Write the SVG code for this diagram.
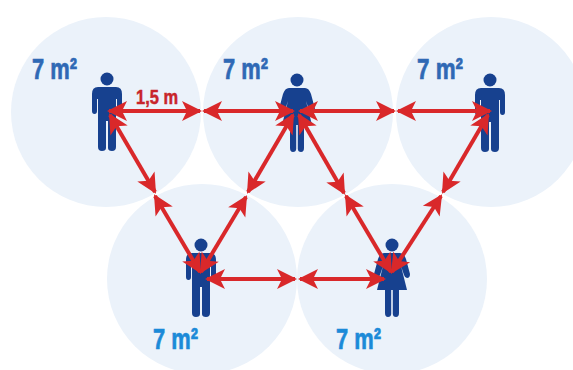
<svg xmlns="http://www.w3.org/2000/svg" width="573" height="370" viewBox="0 0 573 370">
<style>
.zone{fill:#ebf2fa}
.man,.woman{fill:#17418f}
.t{font-family:"Liberation Sans",Arial,sans-serif;font-weight:700;font-size:30px;stroke-width:0.7}
.top{fill:#2f69b5;stroke:#2f69b5}
.bot{fill:#1b8ad8;stroke:#1b8ad8}
.red{stroke:#d9282a;stroke-width:4;fill:none;marker-start:url(#ah);marker-end:url(#ah)}
.dist{fill:#c8242b;stroke:#c8242b;stroke-width:0.5;font-family:"Liberation Sans",Arial,sans-serif;font-weight:700;font-size:20px}
</style>
<defs>
<marker id="ah" markerUnits="userSpaceOnUse" markerWidth="24" markerHeight="24" refX="19" refY="12" orient="auto-start-reverse" viewBox="0 0 24 24">
<path d="M21,12 L1,2 L6,12 L1,22 Z" fill="#d9282a"/>
</marker>
<g id="man">
<circle cx="0" cy="-32" r="6.5"/>
<path d="M-9,-24 H9 Q15,-24 15,-17 V0 Q15,3 12.500,3 Q10,3 10,0 V-12 H9 V36 Q9,40 5,40 Q1,40 1,37 V10 H-1 V37 Q-1,40 -5,40 Q-9,40 -9,36 V-12 H-10 V0 Q-10,3 -12.500,3 Q-15,3 -15,0 V-17 Q-15,-24 -9,-24 Z"/>
</g>
<g id="woman">
<circle cx="0" cy="-32" r="6.500"/>
<path d="M-8,-24 H8 Q12,-24 14,-18 L18,-3 Q18,1 15,1 Q13,1 12,-2 L9,-11 L15,13 H7 V36 Q7,40 4,40 Q1,40 0.800,37 V13 H-0.800 V37 Q-1,40 -4,40 Q-7,40 -7,36 V13 H-15 L-9,-11 L-12,-2 Q-13,1 -15,1 Q-18,1 -18,-3 L-14,-18 Q-12,-24 -8,-24 Z"/>
</g>
</defs>
<rect width="573" height="370" fill="#fff"/>
<g id="zones">
<circle class="zone" cx="106" cy="112" r="95"/>
<circle class="zone" cx="298" cy="112" r="95"/>
<circle class="zone" cx="491" cy="112" r="95"/>
<circle class="zone" cx="202" cy="279" r="95"/>
<circle class="zone" cx="392" cy="279" r="95"/>
</g>
<g id="person-1" class="man"><use href="#man" x="107" y="111"/></g>
<g id="person-2" class="woman"><use href="#woman" x="297" y="112"/></g>
<g id="person-3" class="man"><use href="#man" x="490" y="112"/></g>
<g id="person-4" class="man"><use href="#man" x="201" y="277"/></g>
<g id="person-5" class="woman"><use href="#woman" x="392" y="277"/></g>
<g id="connectors">
<line class="red" x1="109" y1="111" x2="200" y2="111"/>
<line class="red" x1="204" y1="111" x2="293" y2="111"/>
<line class="red" x1="300" y1="111" x2="394" y2="111"/>
<line class="red" x1="398" y1="111" x2="490" y2="111"/>
<line class="red" x1="110" y1="115" x2="155" y2="192"/>
<line class="red" x1="155" y1="196" x2="200" y2="272"/>
<line class="red" x1="293" y1="115" x2="248" y2="192"/>
<line class="red" x1="246" y1="197" x2="201" y2="272"/>
<line class="red" x1="299" y1="115" x2="344" y2="193"/>
<line class="red" x1="346" y1="196" x2="391" y2="272"/>
<line class="red" x1="488" y1="115" x2="443" y2="192"/>
<line class="red" x1="441" y1="196" x2="392" y2="272"/>
<line class="red" x1="207" y1="279" x2="295" y2="279"/>
<line class="red" x1="300" y1="279" x2="384" y2="279"/>
</g>
<g id="labels">
<text class="t top" x="32" y="79" textLength="45" lengthAdjust="spacingAndGlyphs">7 m²</text>
<text class="t top" x="223" y="79" textLength="45" lengthAdjust="spacingAndGlyphs">7 m²</text>
<text class="t top" x="417" y="79" textLength="46" lengthAdjust="spacingAndGlyphs">7 m²</text>
<text class="t bot" x="153" y="349" textLength="45" lengthAdjust="spacingAndGlyphs">7 m²</text>
<text class="t bot" x="336" y="349" textLength="45" lengthAdjust="spacingAndGlyphs">7 m²</text>
<text class="dist" x="136" y="104" textLength="42" lengthAdjust="spacingAndGlyphs">1,5 m</text>
</g>
</svg>
